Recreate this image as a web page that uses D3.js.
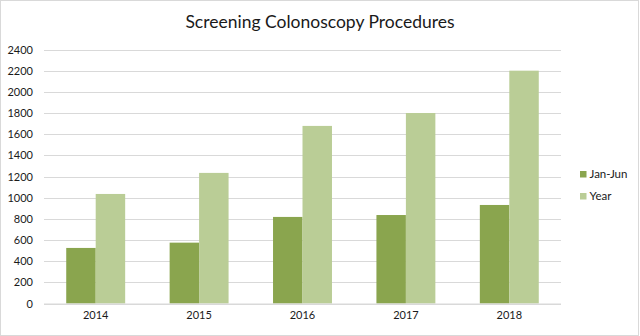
<!DOCTYPE html>
<html>
<head>
<meta charset="utf-8">
<script src="https://cdn.jsdelivr.net/npm/d3@7"></script>
<style>
  html, body { margin: 0; padding: 0; background: #fff; }
  svg { display: block; font-family: Lato, "Open Sans", sans-serif; }
</style>
</head>
<body>
<svg id="chart" width="640" height="336"></svg>
<script>
// Procedures per year: first half vs full year
const years = ["2014", "2015", "2016", "2017", "2018"];
const janJun = [525, 575, 818, 836, 931];
const fullYear = [1035, 1234, 1678, 1800, 2200];
const seriesNames = ["Jan-Jun", "Year"];
const yTicks = [0, 200, 400, 600, 800, 1000, 1200, 1400, 1600, 1800, 2000, 2200, 2400];
const colors = ["#8AA54E", "#BACD96"];

const svg = d3.select("#chart");
const W = 640, H = 336;
const plot = { left: 44, right: 561, top: 49.5, bottom: 303.5 };

// outer frame
svg.append("rect")
  .attr("x", 0.5).attr("y", 0.5)
  .attr("width", W - 2).attr("height", H - 1)
  .attr("fill", "#fff").attr("stroke", "#d9d9d9");

const x = d3.scaleBand().domain(years).range([plot.left, plot.right]).paddingInner(0.43).paddingOuter(0.215);
const xs = d3.scaleBand().domain(seriesNames).range([0, x.bandwidth()]);
const y = d3.scaleLinear().domain([0, 2400]).range([plot.bottom, plot.top]);

// gridlines
svg.append("g")
  .selectAll("line")
  .data(yTicks)
  .join("line")
  .attr("x1", plot.left).attr("x2", plot.right)
  .attr("y1", d => Math.round(y(d)) + 0.5).attr("y2", d => Math.round(y(d)) + 0.5)
  .attr("stroke", "#d9d9d9").attr("stroke-width", 1);

// y axis labels
const yAxis = d3.axisLeft(y).tickValues(yTicks).tickFormat(d3.format("d")).tickSize(0).tickPadding(0);
const gy = svg.append("g").attr("transform", `translate(${33},0)`).call(yAxis);
gy.select(".domain").remove();
gy.selectAll("text").attr("font-size", 11).attr("fill", "#1a1a1a")
  .attr("font-family", "Lato, sans-serif");

// bars
const rows = years.map((yr, i) => ({ year: yr, values: [janJun[i], fullYear[i]] }));
const groups = svg.append("g").selectAll("g")
  .data(rows)
  .join("g")
  .attr("transform", d => `translate(${x(d.year)},0)`);
groups.selectAll("rect")
  .data(d => d.values.map((v, k) => ({ name: seriesNames[k], v, k })))
  .join("rect")
  .attr("x", d => xs(d.name))
  .attr("width", xs.bandwidth())
  .attr("y", d => y(d.v))
  .attr("height", d => y(0) - y(d.v))
  .attr("fill", d => colors[d.k]);

// x axis line and labels
svg.append("line")
  .attr("x1", plot.left).attr("x2", plot.right)
  .attr("y1", plot.bottom + 0.5).attr("y2", plot.bottom + 0.5)
  .attr("stroke", "#d9d9d9");
const xAxis = d3.axisBottom(x).tickSize(0).tickPadding(0);
const gx = svg.append("g").attr("transform", `translate(0,${plot.bottom + 8})`).call(xAxis);
gx.select(".domain").remove();
gx.selectAll("text").attr("font-size", 11).attr("fill", "#1a1a1a")
  .attr("font-family", "Lato, sans-serif");

// title
svg.append("text")
  .attr("x", 320).attr("y", 28)
  .attr("text-anchor", "middle")
  .attr("font-size", 17.5)
  .attr("fill", "#1a1a1a")
  .text("Screening Colonoscopy Procedures");

// legend
const legend = svg.append("g").attr("transform", "translate(580,171)");
const li = legend.selectAll("g").data(seriesNames).join("g")
  .attr("transform", (d, i) => `translate(0,${i * 22})`);
li.append("rect").attr("width", 6.5).attr("height", 6.5).attr("fill", (d, i) => colors[i]);
li.append("text").attr("x", 9.5).attr("y", 7).attr("font-size", 11.5).attr("fill", "#1a1a1a").text(d => d);
</script>
</body>
</html>
